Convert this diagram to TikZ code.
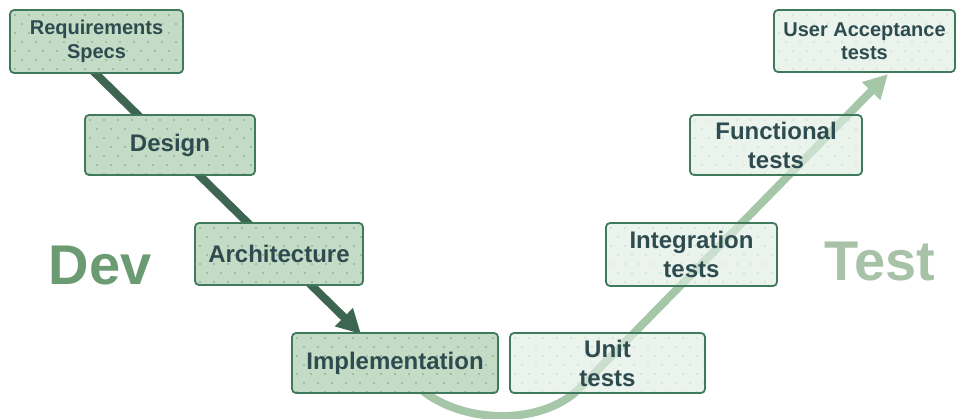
\documentclass[tikz,border=0pt]{standalone}
\usepackage{fontspec}
\setmainfont{Liberation Sans}
\usetikzlibrary{arrows.meta,calc}
\definecolor{devfill}{HTML}{C4DCC6}
\definecolor{testfill}{HTML}{DFEDE2}
\definecolor{boxborder}{HTML}{3F7A5C}
\definecolor{devdot}{HTML}{6FA27D}
\definecolor{testdot}{HTML}{B3CCB6}
\definecolor{labeltext}{HTML}{2E4B50}
\definecolor{darkarrow}{HTML}{3D6652}
\definecolor{lightarrow}{HTML}{A5C6A7}
\definecolor{devword}{HTML}{6B9B72}
\definecolor{testword}{HTML}{A7C2A6}
\tikzset{
  dotted grid/.style={path picture={
    \foreach \i in {0,...,18} \foreach \j in {0,...,7} {
      \pgfmathsetmacro{\xo}{mod(\j,2)*7}
      \fill[#1] ($(path picture bounding box.north west)+(\i*14pt+\xo pt+5pt,-\j*9pt-5pt)$) circle (0.8pt);
    }}},
  basebox/.style={rectangle, rounded corners=4pt, draw=boxborder, line width=1.8pt,
    align=center, text=labeltext, font=\bfseries\fontsize{24}{29}\selectfont, inner sep=0pt},
  devbox/.style={basebox, fill=devfill, dotted grid=devdot},
  testbox/.style={basebox, fill=testfill, fill opacity=0.65, text opacity=1, dotted grid=testdot},
  smalltext/.style={font=\bfseries\fontsize{20}{23.5}\selectfont},
  bigword/.style={font=\bfseries\fontsize{56}{60}\selectfont},
  devline/.style={draw=darkarrow, line width=8pt, -{Triangle[length=24pt,width=24pt]}},
  testline/.style={draw=lightarrow, line width=8pt, -{Triangle[length=24pt,width=24pt]}},
}
\begin{document}
\begin{tikzpicture}[x=1pt,y=-1pt]
\useasboundingbox (0,0) rectangle (957,418);
% connectors first (behind boxes)
\coordinate (ds) at (88,66);
\coordinate (de) at (361,334);
\draw[devline] (ds) -- (de);
\coordinate (ts) at (415,384);
\coordinate (tm) at (580,388);
\coordinate (te) at (888,74);
\draw[testline] (ts) .. controls (455,424) and (540,428) .. (tm) -- (te);
% boxes
\node[devbox, smalltext, minimum width=173pt, minimum height=63pt] (req) at (96.5,41.5) {Requirements\\Specs};
\node[devbox, minimum width=170pt, minimum height=60pt] (design) at (170,145) {Design};
\node[devbox, minimum width=168pt, minimum height=62pt] (arch) at (279,254) {Architecture};
\node[devbox, minimum width=206pt, minimum height=60pt] (impl) at (395,363) {Implementation};
\node[testbox, minimum width=195pt, minimum height=60pt] (unit) at (607.5,363) {Unit\\tests};
\node[testbox, minimum width=171pt, minimum height=63pt] (integ) at (691.5,254.5) {Integration\\tests};
\node[testbox, minimum width=172pt, minimum height=60pt] (func) at (776,145) {Functional\\tests};
\node[testbox, smalltext, minimum width=181pt, minimum height=62pt] (uat) at (864.5,41) {User Acceptance\\tests};
% big words
\node[bigword, text=devword] (dev) at (100,266) {Dev};
\node[bigword, text=testword] (test) at (880,262) {Test};
\end{tikzpicture}
\end{document}
